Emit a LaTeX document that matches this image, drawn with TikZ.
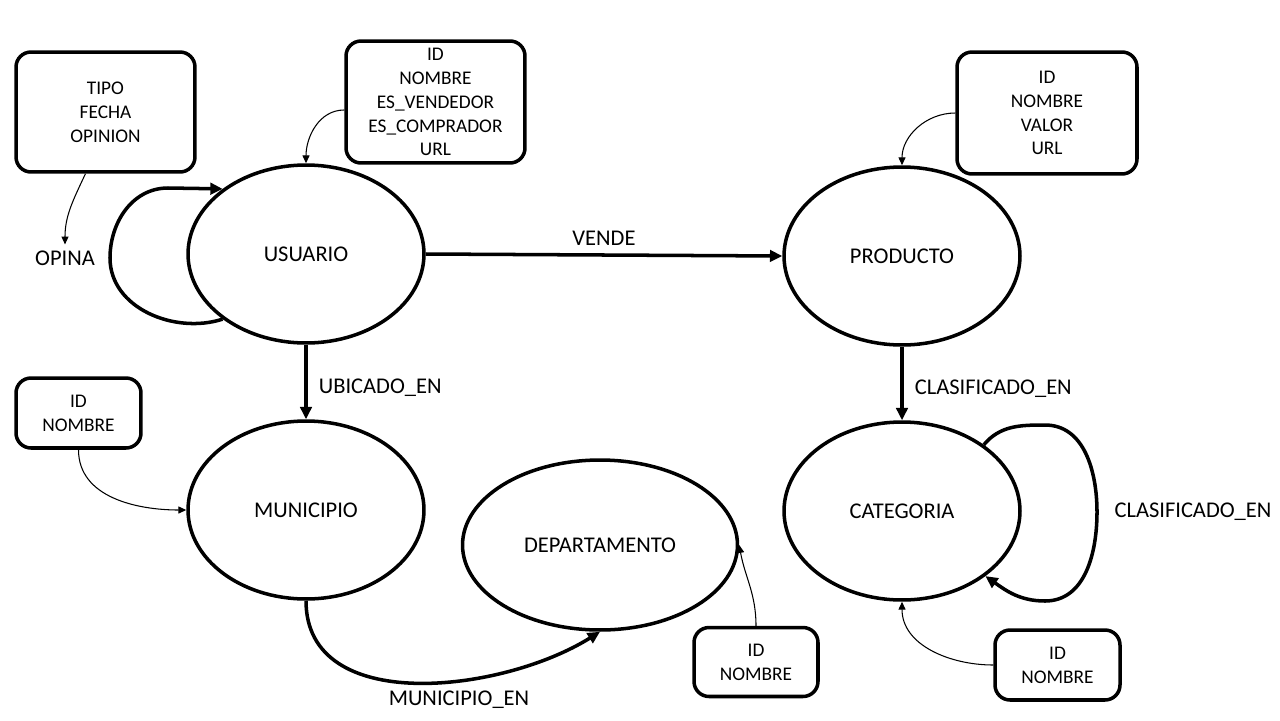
\documentclass[tikz,border=0pt]{standalone}
\usepackage{fontspec}
\setmainfont{Carlito}
\usepackage{tikz}
\usetikzlibrary{arrows.meta,shapes.geometric}

\begin{document}
\begin{tikzpicture}[x=0.02cm,y=-0.02cm,
    entity/.style={ellipse,draw,line width=2pt,minimum width=4.72cm,minimum height=3.56cm,
      font=\fontsize{12.8}{15}\selectfont},
    attrs/.style={draw,line width=2pt,rounded corners=0.3cm,align=center,inner sep=0pt,
      font=\fontsize{11}{13.6}\selectfont},
    rel/.style={line width=2pt,-{Triangle[length=7pt,width=6.5pt]}},
    attrarrow/.style={line width=0.6pt,-{Triangle[length=4.5pt,width=4pt]}},
    lbl/.style={font=\fontsize{12.8}{15}\selectfont}]
    \useasboundingbox (0,0) rectangle (1280,720);

    \node[entity] (usuario) at (306,254) {USUARIO};
    \node[entity] (producto) at (902,256) {PRODUCTO};
    \node[entity] (municipio) at (306,510) {MUNICIPIO};
    \node[entity,minimum width=5.5cm,minimum height=3.4cm] (departamento) at (600,545) {DEPARTAMENTO};
    \node[entity] (categoria) at (902,511) {CATEGORIA};

    % attribute boxes
    \node[attrs,minimum width=3.58cm,minimum height=2.4cm] (attropina) at (105.5,112) {TIPO\\FECHA\\OPINION};
    \node[attrs,minimum width=3.58cm,minimum height=2.44cm] (attrusuario) at (435.5,102)
      {ID\\NOMBRE\\ES\_VENDEDOR\\ES\_COMPRADOR\\URL};
    \node[attrs,minimum width=3.6cm,minimum height=2.44cm] (attrproducto) at (1047,113) {ID\\NOMBRE\\VALOR\\URL};
    \node[attrs,minimum width=2.5cm,minimum height=1.4cm] (attrmunicipio) at (78.5,413) {ID\\NOMBRE};
    \node[attrs,minimum width=2.48cm,minimum height=1.38cm] (attrdepto) at (756,662) {ID\\NOMBRE};
    \node[attrs,minimum width=2.5cm,minimum height=1.4cm] (attrcategoria) at (1057.5,665) {ID\\NOMBRE};

    \node[lbl] (opina) at (65,258) {OPINA};
    \node[lbl] (munien) at (459,700) {MUNICIPIO\_EN};
    \node[lbl] (clasif) at (1193,512) {CLASIFICADO\_EN};

    % relations
    \draw[rel] (usuario.218) to[out=198,in=-90] (110,258) to[out=90,in=180] (168,188) -- (usuario.142);
    \draw[rel] (usuario.east) -- node[lbl,above,yshift=1pt] {VENDE} (producto.west);
    \draw[rel] (usuario.south) -- node[lbl,right,xshift=3pt,yshift=-3pt] {UBICADO\_EN} (municipio.north);
    \draw[rel] (producto.south) -- node[lbl,right,xshift=3pt,yshift=-3pt] {CLASIFICADO\_EN} (categoria.north);
    \draw[rel] (municipio.south) to[out=-90,in=-148] (departamento.south);
    \draw[rel] (categoria.39) to[out=50,in=180] (1045,425) to[out=0,in=90] (1097,512)
      to[out=-90,in=0] (1045,601) to[out=180,in=-35] (categoria.-38);

    % attribute links
    \draw[attrarrow] (attropina.-108) to[out=-115,in=90] (opina.north);
    \draw[attrarrow] (attrusuario.185) to[out=180,in=90] (usuario.north);
    \draw[attrarrow] (attrproducto.west) to[out=180,in=90] (producto.north);
    \draw[attrarrow] (attrmunicipio.south) to[out=-90,in=180] (municipio.west);
    \draw[attrarrow] (attrdepto.north) to[out=90,in=-80] (departamento.east);
    \draw[attrarrow] (attrcategoria.west) to[out=180,in=-90] (categoria.south);
\end{tikzpicture}
\end{document}
